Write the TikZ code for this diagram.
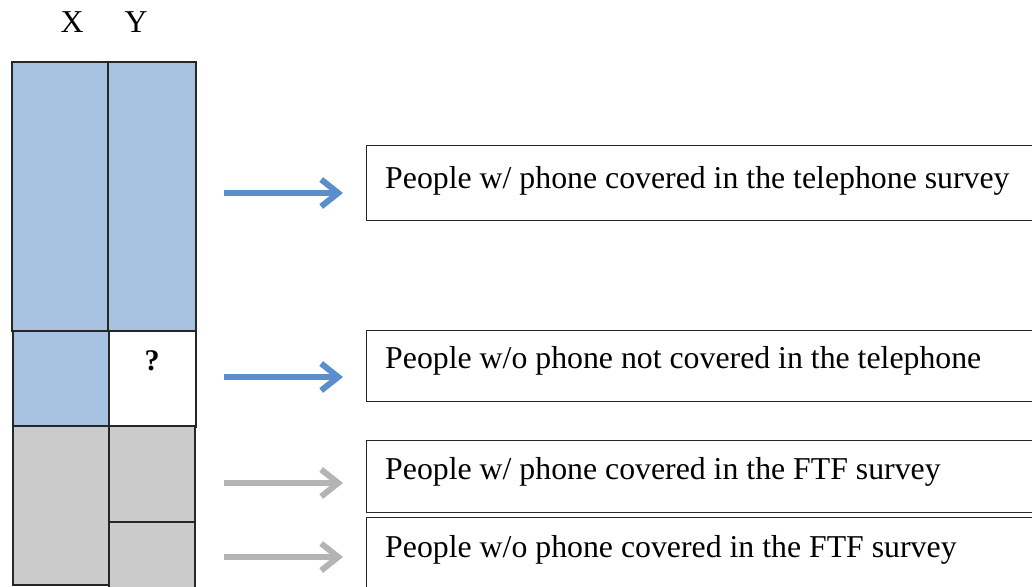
\documentclass[tikz,border=0pt]{standalone}
\usepackage{fontspec}
\setmainfont{Liberation Serif}
\usetikzlibrary{arrows.meta}
\definecolor{blk}{HTML}{A7C1E0}
\definecolor{gry}{HTML}{CBCBCB}
\definecolor{arrb}{HTML}{5B8FCB}
\definecolor{arrg}{HTML}{B4B4B4}
\tikzset{
  cell/.style={draw=black!85, line width=1.1pt, inner sep=0pt, outer sep=0pt, anchor=north west},
  lbox/.style={draw=black!85, line width=1pt, fill=white, inner sep=0pt, outer sep=0pt, anchor=north west, minimum width=700pt},
  txt/.style={font=\fontsize{31.8}{36}\selectfont, anchor=base west, inner sep=0pt},
  arr/.style={line width=6pt, -{Straight Barb[length=17pt,width=27pt,line width=6pt]}, shorten >=23pt}
}
\begin{document}
\begin{tikzpicture}[x=1pt,y=-1pt]
\useasboundingbox (0,0) rectangle (1032,586);
\clip (0,0) rectangle (1032,586);
\fill[white] (0,0) rectangle (1032,586);
% column labels
\node[font=\fontsize{31.8}{36}\selectfont, inner sep=0pt, anchor=base] (lx) at (72,33) {X};
\node[font=\fontsize{31.8}{36}\selectfont, inner sep=0pt, anchor=base] (ly) at (136,33) {Y};
% cells
\node[cell, fill=blk, minimum width=96pt, minimum height=269pt] (c1) at (12,62) {};
\node[cell, fill=blk, minimum width=88pt, minimum height=269pt] (c2) at (108,62) {};
\node[cell, fill=blk, minimum width=96pt, minimum height=96pt] (c3) at (13,331) {};
\node[cell, fill=white, minimum width=87pt, minimum height=96pt] (c4) at (109,331) {};
\node[font=\bfseries\fontsize{30}{34}\selectfont, inner sep=0pt, anchor=base] (q) at (152,370) {?};
\node[cell, fill=gry, minimum width=96pt, minimum height=159pt] (c5) at (13,426) {};
\node[cell, fill=gry, minimum width=86pt, minimum height=96pt] (c6) at (109,426) {};
\node[cell, fill=gry, minimum width=86pt, minimum height=70pt] (c7) at (109,522) {};
% label boxes
\node[lbox, minimum height=75pt] (b1) at (366,145) {};
\node[lbox, minimum height=71pt] (b2) at (366,330) {};
\node[lbox, minimum height=72pt] (b3) at (366,440) {};
\node[lbox, minimum height=80pt] (b4) at (366,517) {};
\node[txt] (t1) at (385,188) {People w/ phone covered in the telephone survey};
\node[txt] (t2) at (385,368) {People w/o phone not covered in the telephone};
\node[txt] (t3) at (385,479) {People w/ phone covered in the FTF survey};
\node[txt] (t4) at (385,557) {People w/o phone covered in the FTF survey};
% arrows
\coordinate (s1) at (224,193);
\coordinate (s2) at (224,377);
\coordinate (s3) at (224,483);
\coordinate (s4) at (224,557);
\draw[arr, arrb] (s1) -- (s1 -| b1.west);
\draw[arr, arrb] (s2) -- (s2 -| b2.west);
\draw[arr, arrg] (s3) -- (s3 -| b3.west);
\draw[arr, arrg] (s4) -- (s4 -| b4.west);
\end{tikzpicture}
\end{document}
